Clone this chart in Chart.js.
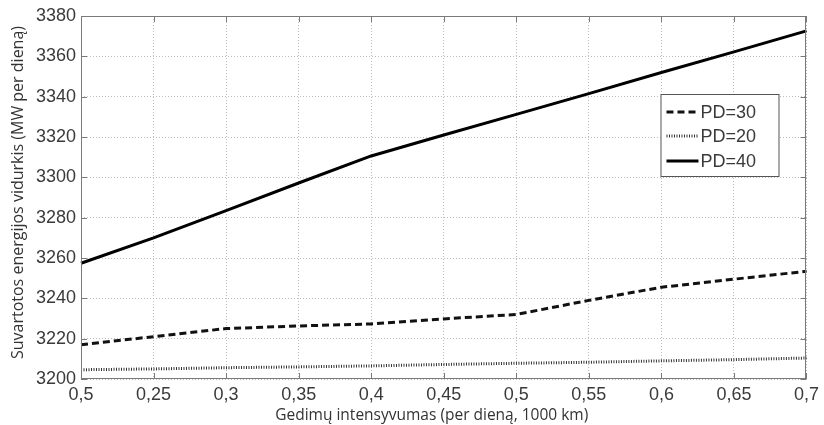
<!DOCTYPE html>
<html>
<head>
<meta charset="utf-8">
<script src="https://cdn.jsdelivr.net/npm/chart.js@4/dist/chart.umd.min.js"></script>
<style>
html,body{margin:0;padding:0;background:#fff;}
canvas{display:block;}
</style>
</head>
<body>
<canvas id="c" width="824" height="425"></canvas>
<script>
// ---- data ----
const categories = ['0,5','0,25','0,3','0,35','0,4','0,45','0,5','0,55','0,6','0,65','0,7'];
const seriesNames = ['PD=30','PD=20','PD=40'];
const pd30 = [3217, 3221, 3225, 3226.3, 3227.3, 3229.8, 3232, 3239, 3245.5, 3249.5, 3253.4];
const pd20 = [3204.6, 3205, 3205.6, 3206, 3206.5, 3207.2, 3207.8, 3208.3, 3209, 3209.6, 3210.4];
const pd40 = [3257.4, 3270, 3283.5, 3297.2, 3310.6, 3321, 3331.2, 3341.5, 3352, 3362.2, 3372.6];
const yMin = 3200, yMax = 3380, yStep = 20;
const xTitle = 'Gedimų intensyvumas (per dieną, 1000 km)';
const yTitle = 'Suvartotos energijos vidurkis (MW per dieną)';

const tickFont = {family: '"Liberation Sans", Arial, sans-serif', size: 18};
const tickColor = '#3a3a3a';

const framePlugin = {
  id: 'frame',
  afterDraw(chart) {
    const {ctx, chartArea: a, scales: {x, y}} = chart;
    ctx.save();
    // frame
    ctx.strokeStyle = '#7a7a7a';
    ctx.lineWidth = 1;
    ctx.strokeRect(Math.round(a.left) + 0.5, Math.round(a.top) + 0.5,
                   Math.round(a.right - a.left) - 1, Math.round(a.bottom - a.top) - 1);
    // inward ticks
    ctx.beginPath();
    x.ticks.forEach((t, i) => {
      const px = Math.round(x.getPixelForTick(i)) + 0.5;
      ctx.moveTo(px, a.bottom); ctx.lineTo(px, a.bottom - 6);
      ctx.moveTo(px, a.top); ctx.lineTo(px, a.top + 6);
    });
    y.ticks.forEach((t, i) => {
      const py = Math.round(y.getPixelForTick(i)) + 0.5;
      ctx.moveTo(a.left, py); ctx.lineTo(a.left + 6, py);
      ctx.moveTo(a.right, py); ctx.lineTo(a.right - 6, py);
    });
    ctx.stroke();

    // axis titles
    ctx.fillStyle = '#333';
    ctx.textAlign = 'center';
    ctx.textBaseline = 'middle';
    ctx.font = '15.5px "Open Sans", sans-serif';
    ctx.fillText(xTitle, (a.left + a.right) / 2 - 12, a.bottom + 37);
    ctx.font = '16px "Open Sans", sans-serif';
    ctx.save();
    ctx.translate(a.left - 63, (a.top + a.bottom) / 2 - 5);
    ctx.rotate(-Math.PI / 2);
    ctx.fillText(yTitle, 0, 0);
    ctx.restore();

    // legend
    const bx = a.right - 146, by = a.top + 78, bw = 118, bh = 82;
    ctx.fillStyle = '#fff';
    ctx.fillRect(bx, by, bw, bh);
    ctx.strokeStyle = '#555';
    ctx.lineWidth = 1;
    ctx.strokeRect(bx + 0.5, by + 0.5, bw, bh);
    const rows = [18, 42, 67];
    chart.data.datasets.forEach((ds, i) => {
      const ry = by + rows[i];
      ctx.save();
      ctx.strokeStyle = ds.borderColor;
      ctx.lineWidth = ds.borderWidth;
      ctx.setLineDash(ds.borderDash || []);
      ctx.beginPath();
      ctx.moveTo(bx + 6, ry); ctx.lineTo(bx + 38, ry);
      ctx.stroke();
      ctx.restore();
      ctx.fillStyle = tickColor;
      ctx.font = '18px "Liberation Sans", Arial, sans-serif';
      ctx.textAlign = 'left';
      ctx.textBaseline = 'middle';
      ctx.fillText(ds.label, bx + 40, ry + 1);
    });
    ctx.restore();
  }
};

new Chart(document.getElementById('c'), {
  type: 'line',
  data: {
    labels: categories,
    datasets: [
      {label: seriesNames[0], data: pd30, borderColor: '#111', borderWidth: 3, borderDash: [7, 4], pointRadius: 0, tension: 0, fill: false},
      {label: seriesNames[1], data: pd20, borderColor: '#333', borderWidth: 3, borderDash: [1, 1.5], pointRadius: 0, tension: 0, fill: false},
      {label: seriesNames[2], data: pd40, borderColor: '#000', borderWidth: 3, pointRadius: 0, tension: 0, fill: false}
    ]
  },
  options: {
    responsive: false,
    animation: false,
    layout: {padding: {left: 0, right: 13, top: 16, bottom: 0}},
    plugins: {legend: {display: false}, tooltip: {enabled: false}},
    scales: {
      x: {
        type: 'category',
        offset: false,
        grid: {color: '#bdbdbd', lineWidth: 1, drawTicks: false},
        border: {display: false, dash: [1, 2]},
        ticks: {font: tickFont, color: tickColor, padding: 5, maxRotation: 0, autoSkip: false},
        afterFit(s) { s.height = 46; }
      },
      y: {
        min: yMin, max: yMax,
        grid: {color: '#bdbdbd', lineWidth: 1, drawTicks: false},
        border: {display: false, dash: [1, 2]},
        ticks: {stepSize: yStep, font: tickFont, color: tickColor, padding: 5, callback: v => String(v)},
        afterFit(s) { s.width = 81; }
      }
    }
  },
  plugins: [framePlugin]
});
</script>
</body>
</html>
